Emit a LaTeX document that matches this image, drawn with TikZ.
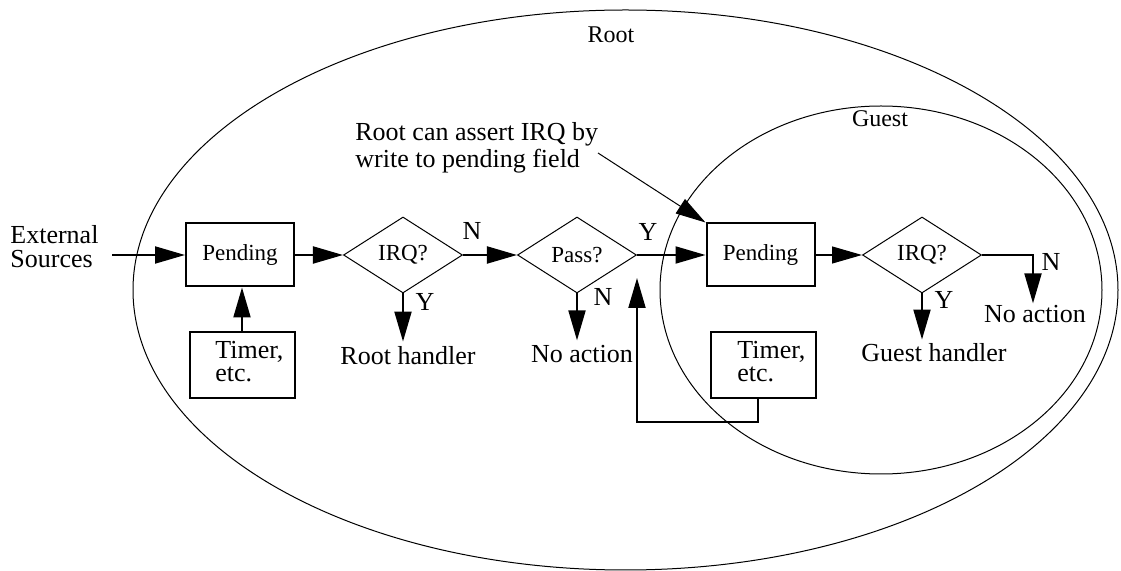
\documentclass[tikz,border=0pt]{standalone}
\usepackage{fontspec}
\setmainfont{Liberation Serif}
\usetikzlibrary{shapes.geometric,arrows.meta}

\begin{document}
\begin{tikzpicture}[x=0.5pt,y=-0.5pt,
  boxtext/.style={font=\fontsize{11.5}{13}\selectfont},
  labtext/.style={font=\fontsize{13}{13.5}\selectfont,inner sep=0pt},
  zonetext/.style={font=\fontsize{12}{13}\selectfont,inner sep=0pt},
  pendbox/.style={draw,line width=1pt,minimum width=54pt,minimum height=31.5pt,inner sep=0pt,boxtext},
  timerbox/.style={draw,line width=1pt,minimum width=52.5pt,minimum height=33pt,inner sep=0pt},
  decision/.style={draw,diamond,line width=0.5pt,minimum width=59.5pt,minimum height=38pt,inner sep=0pt,boxtext},
  flow/.style={line width=1pt,-{Triangle[length=15pt,width=8.5pt]}},
  yn/.style={font=\fontsize{13}{13}\selectfont,inner sep=0pt}]
\useasboundingbox (0,0) rectangle (1121,571);
\clip (0,0) rectangle (1121,571);

\draw[line width=0.5pt] (625.5,290) ellipse [x radius=492.5,y radius=280];
\draw[line width=0.5pt] (881,290) ellipse [x radius=221,y radius=184];

\node[zonetext,anchor=base] (rootlbl) at (611,43) {Root};
\node[zonetext,anchor=base] (guestlbl) at (880,127) {Guest};

\node[labtext,anchor=north west,align=left,font=\fontsize{13}{12}\selectfont] (extsrc) at (10,225) {External\\Sources};
\coordinate (extstart) at (112,255);

\node[pendbox] (pendA) at (240,255) {Pending};
\node[timerbox] (timerA) at (242,365) {};
\node[labtext,anchor=north west,align=left,font=\fontsize{13}{11.5}\selectfont] (timerAtxt) at (215,341) {Timer,\\etc.};
\node[decision] (irqA) at (403,255) {IRQ?};
\node[decision] (passA) at (577,255) {Pass?};
\node[pendbox] (pendB) at (760.5,255) {Pending};
\node[timerbox] (timerB) at (763.5,365) {};
\node[labtext,anchor=north west,align=left,font=\fontsize{13}{11.5}\selectfont] (timerBtxt) at (737,341) {Timer,\\etc.};
\node[decision] (irqB) at (922,255) {IRQ?};

\node[labtext,anchor=base] (roothd) at (408,365) {Root handler};
\node[labtext,anchor=base] (noactA) at (582,363) {No action};
\node[labtext,anchor=base] (guesthd) at (934,362) {Guest handler};
\node[labtext,anchor=base] (noactB) at (1035,323) {No action};

\node[yn] (nA) at (472,231) {N};
\node[yn] (yA) at (425,302) {Y};
\node[yn] (yP) at (648,232) {Y};
\node[yn] (nP) at (603,297) {N};
\node[yn] (yB) at (944,300) {Y};
\node[yn] (nB) at (1051,262) {N};

\node[labtext,anchor=north west,align=left] (note) at (355,122) {Root can assert IRQ by\\write to pending field};
\coordinate (notefrom) at (598,153);

\coordinate (loopbot) at (637,422);
\coordinate (loopend) at (637,278);
\coordinate (timerBout) at (758,398);
\coordinate (turnB) at (1033,255);

\draw[flow] (extstart) -- (pendA.west);
\draw[flow] (pendA) -- (irqA);
\draw[flow] (timerA.north) -- (timerA.north |- pendA.south);
\draw[flow] (irqA) -- (passA);
\draw[flow,shorten >=2.5pt] (irqA.south) -- (irqA.south |- roothd.north);
\draw[flow,shorten >=2.5pt] (passA.south) -- (passA.south |- noactA.north);
\draw[flow] (passA) -- (pendB);
\draw[flow] (timerBout) |- (loopbot) -- (loopend);
\draw[flow,line width=0.5pt] (notefrom) -- (pendB.north west);
\draw[flow,line width=0.6pt] (pendB) -- (irqB);
\draw[flow,shorten >=2pt] (irqB.south) -- (irqB.south |- guesthd.north);
\draw[flow,shorten >=1pt] (irqB.east) -- (turnB) -- (turnB |- noactB.north);

\end{tikzpicture}
\end{document}
